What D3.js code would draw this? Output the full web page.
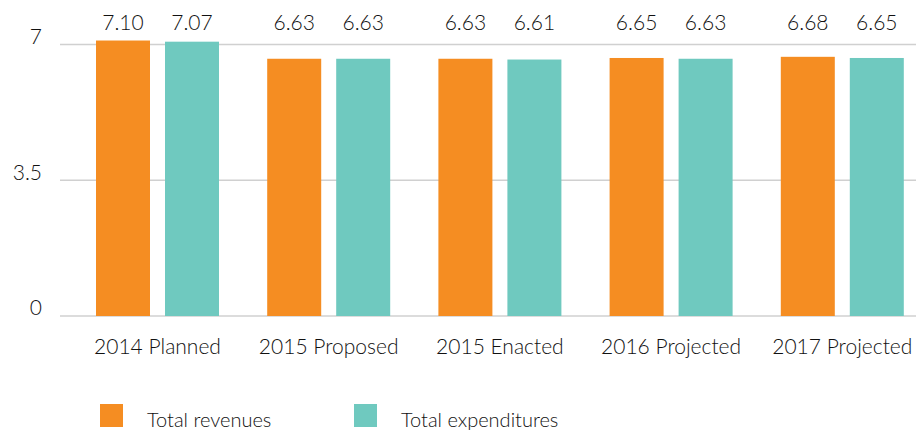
<!DOCTYPE html>
<html>
  <head>
    <meta charset="utf-8">
    <title>Revenues and expenditures</title>
    <script src="https://cdn.jsdelivr.net/npm/d3@7"></script>
    <style>
      body { margin: 0; background: #fff; }
      svg { display: block; font-family: Lato, "Open Sans", sans-serif; font-weight: 300; }
      .tick text, .label, .value, .legend text { fill: #111; font-size: 21px; }
      .legend text { font-size: 20px; }
      .grid line { stroke: #d0d0d0; stroke-width: 1.5; }
    </style>
  </head>
  <body>
    <svg id="chart" width="922" height="432"></svg>

    <script>
      // data
      categories = ["2014 Planned", "2015 Proposed", "2015 Enacted", "2016 Projected", "2017 Projected"];
      revenues = [7.10, 6.63, 6.63, 6.65, 6.68];
      expenditures = [7.07, 6.63, 6.61, 6.63, 6.65];
      seriesNames = ["Total revenues", "Total expenditures"];
      yTicks = [0, 3.5, 7];

      colours = ["#f58d22", "#6fc9bf"];

      // elements
      svg = d3.select("#chart");

      left = 60;
      right = 916;
      bottom = 316;

      x = d3.scaleBand()
        .domain(categories)
        .range([left, right]);

      y = d3.scaleLinear()
        .domain([0, 7])
        .range([bottom, bottom - 7 * 38.8]);

      // bars sit inside each band: 36px in, 54px wide, 15px apart
      inner = d3.scaleBand()
        .domain([0, 1])
        .range([36, 36 + 54 * 2 + 15])
        .paddingInner(15 / 69);

      grid = svg.append("g")
        .classed("grid", true);
      grid.selectAll("line")
          .data(yTicks)
        .enter().append("line")
          .attr("x1", left)
          .attr("x2", right)
          .attr("y1", function(d) { return y(d); })
          .attr("y2", function(d) { return y(d); });

      yAxis = svg.append("g")
        .attr("transform", "translate(" + left + ",0)")
        .call(d3.axisLeft(y).tickValues(yTicks).tickFormat(d3.format("")).tickSize(0).tickPadding(18))
        .attr("font-family", null)
        .attr("font-size", null);
      yAxis.select(".domain").remove();
      yAxis.selectAll("text")
        .attr("dy", "-0.05em");

      rows = categories.map(function(c, i) {
        return { category: c, values: [revenues[i], expenditures[i]] };
      });

      groups = svg.selectAll(".group")
          .data(rows)
        .enter().append("g")
          .classed("group", true)
          .attr("transform", function(d) { return "translate(" + x(d.category) + ",0)"; });

      groups.selectAll("rect")
          .data(function(d) { return d.values; })
        .enter().append("rect")
          .attr("x", function(d, i) { return inner(i); })
          .attr("width", inner.bandwidth())
          .attr("y", function(d) { return y(d); })
          .attr("height", function(d) { return y(0) - y(d); })
          .style("fill", function(d, i) { return colours[i]; });

      groups.selectAll(".value")
          .data(function(d) { return d.values; })
        .enter().append("text")
          .classed("value", true)
          .attr("x", function(d, i) { return inner(i) + inner.bandwidth() / 2; })
          .attr("y", 30)
          .attr("text-anchor", "middle")
          .text(function(d) { return d3.format(".2f")(d); });

      groups.append("text")
        .classed("label", true)
        .attr("x", inner(0) + (inner(1) + inner.bandwidth() - inner(0)) / 2)
        .attr("y", 354)
        .attr("text-anchor", "middle")
        .text(function(d) { return d.category; });

      // legend
      legend = svg.append("g")
        .classed("legend", true);
      items = legend.selectAll("g")
          .data(seriesNames)
        .enter().append("g")
          .attr("transform", function(d, i) { return "translate(" + (100 + i * 254) + ",404)"; });
      items.append("rect")
        .attr("width", 23)
        .attr("height", 23)
        .style("fill", function(d, i) { return colours[i]; });
      items.append("text")
        .attr("x", 47)
        .attr("y", 23)
        .text(function(d) { return d; });
    </script>
  </body>
</html>
